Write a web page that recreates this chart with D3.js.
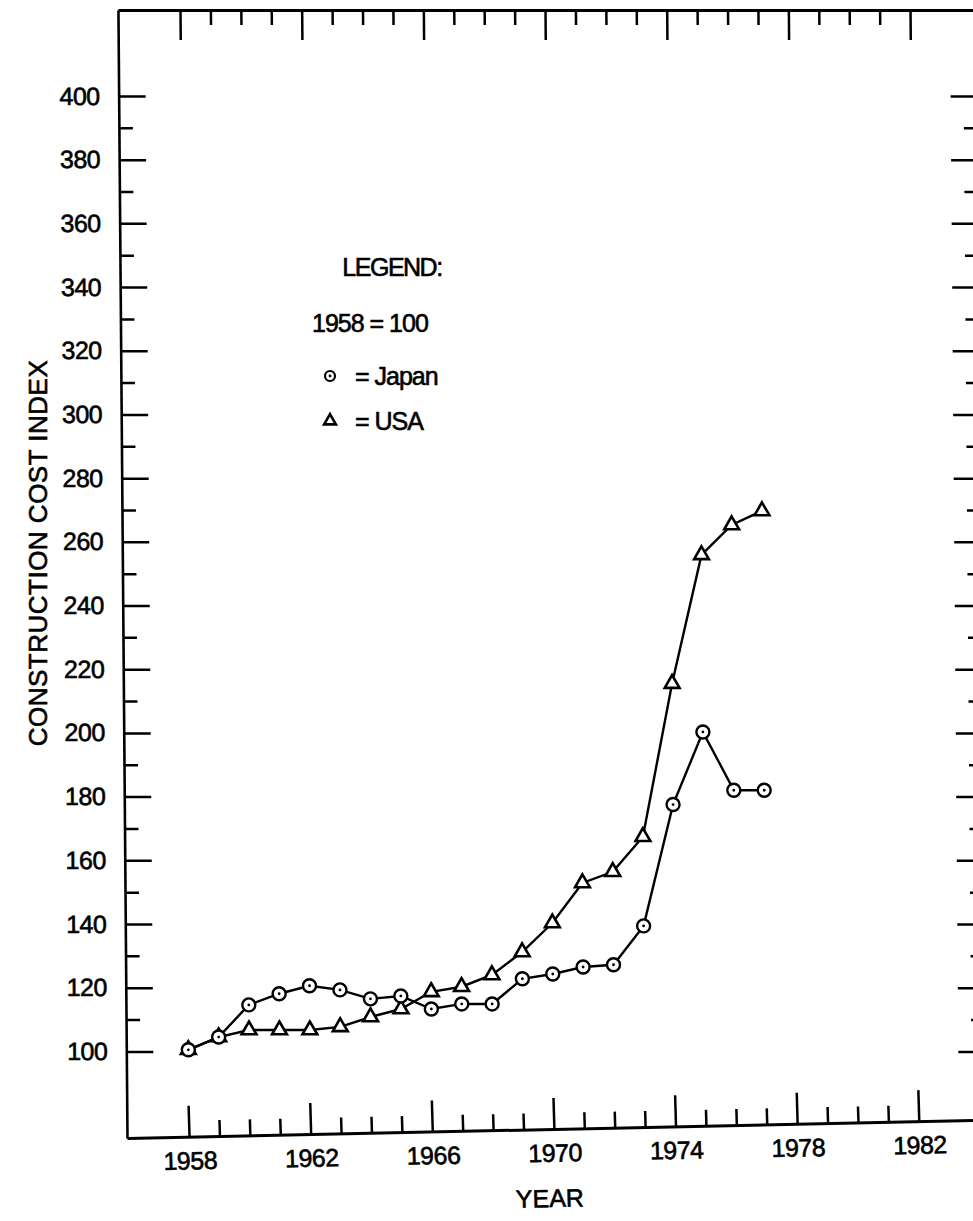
<!DOCTYPE html>
<html>
<head>
<meta charset="utf-8">
<script src="https://cdn.jsdelivr.net/npm/d3@7"></script>
<style>
  body { margin: 0; background: #fff; }
  svg { display: block; }
  text { font-family: "Liberation Sans", Arial, sans-serif; fill: #000; stroke: #000; stroke-width: 0.6px; }
</style>
</head>
<body>
<div id="chart"></div>
<script>
// values (1958 = 100)
const years = [1958,1959,1960,1961,1962,1963,1964,1965,1966,1967,1968,1969,1970,1971,1972,1973,1974,1975,1976,1977]
const japan = [100.5,104.5,114.6,118.1,120.6,119.3,116.5,117.4,113.3,114.9,114.9,122.8,124.3,126.5,127.2,139.4,177.5,200.3,182,182]
const usa   = [100.5,104.5,106.7,106.7,106.7,107.7,110.8,113.3,118.7,120.3,124.0,131.2,140.3,152.9,156.4,167.4,215.5,255.9,265.3,269.7]

const yTicks = [100,120,140,160,180,200,220,240,260,280,300,320,340,360,380,400]
const yMinorTicks = [110,130,150,170,190,210,230,250,270,290,310,330,350,370,390]
const xTicks = [1958,1962,1966,1970,1974,1978,1982]
const xMinorTicks = [1959,1960,1961,1963,1964,1965,1967,1968,1969,1971,1972,1973,1975,1976,1977,1979,1980,1981]

const W = 973, H = 1221
const yBottom = 1138, yTop = 10, xLeft = 127, xRight = 986

const svg = d3.select("#chart").append("svg")
  .attr("width", W)
  .attr("height", H)

const xScale = d3.scaleLinear()
  .domain([1955.96, 1984.2])
  .range([xLeft, xRight])

const yScale = d3.scaleLinear()
  .domain([72.8, 427])
  .range([yBottom, yTop])

// the original scan leans a little, so shear the whole plot
const plot = svg.append("g")
  .attr("transform", `translate(0,${yBottom}) skewX(0.46) translate(0,${-yBottom})`)

function styleAxis(g, w){
  g.selectAll("path").attr("stroke", "#000").attr("stroke-width", w)
  g.selectAll("line").attr("stroke", "#000").attr("stroke-width", 2.5)
  g.selectAll("text")
    .style("font-size", "25px")
    .style("letter-spacing", "-0.5px")
}

// left axis
plot.append("g")
  .attr("transform", `translate(${xLeft},0)`)
  .call(d3.axisLeft(yScale).tickValues(yTicks).tickSize(-27).tickSizeOuter(0).tickPadding(19))
  .call(g => styleAxis(g, 2.6))
plot.append("g")
  .attr("transform", `translate(${xLeft},0)`)
  .call(d3.axisLeft(yScale).tickValues(yMinorTicks).tickSize(-14).tickFormat(""))
  .call(g => g.select(".domain").remove())
  .call(g => styleAxis(g, 2))

// right axis (line sits just past the page edge)
plot.append("g")
  .attr("transform", `translate(${xRight},0)`)
  .call(d3.axisRight(yScale).tickValues(yTicks).tickSize(-27).tickSizeOuter(0).tickFormat(""))
  .call(g => styleAxis(g, 2.6))
plot.append("g")
  .attr("transform", `translate(${xRight},0)`)
  .call(d3.axisRight(yScale).tickValues(yMinorTicks).tickSize(-14).tickFormat(""))
  .call(g => g.select(".domain").remove())
  .call(g => styleAxis(g, 2))

// top axis
plot.append("g")
  .attr("transform", `translate(0,${yTop})`)
  .call(d3.axisTop(xScale).tickValues(xTicks).tickSize(-30).tickSizeOuter(0).tickFormat(""))
  .call(g => styleAxis(g, 3))
plot.append("g")
  .attr("transform", `translate(0,${yTop})`)
  .call(d3.axisTop(xScale).tickValues(xMinorTicks).tickSize(-15).tickFormat(""))
  .call(g => g.select(".domain").remove())
  .call(g => styleAxis(g, 2))

// bottom axis, tilted like the scan
const xAxisG = plot.append("g")
  .attr("transform", `translate(0,${yBottom}) rotate(-1.22,${xLeft},0)`)
xAxisG.append("g")
  .call(d3.axisBottom(xScale).tickValues(xTicks).tickSize(-31).tickSizeOuter(0).tickPadding(15).tickFormat(d3.format("d")))
  .call(g => styleAxis(g, 3))
xAxisG.append("g")
  .call(d3.axisBottom(xScale).tickValues(xMinorTicks).tickSize(-16).tickFormat(""))
  .call(g => g.select(".domain").remove())
  .call(g => styleAxis(g, 2))

xAxisG.append("text")
  .attr("x", 548)
  .attr("y", 78)
  .attr("text-anchor", "middle")
  .style("font-size", "25px")
  .text("YEAR")

// y title
svg.append("text")
  .attr("transform", "translate(47,553) rotate(-90)")
  .attr("text-anchor", "middle")
  .style("font-size", "26px")
  .style("letter-spacing", "0.5px")
  .text("CONSTRUCTION COST INDEX")

// series
const line = d3.line()
  .x((d,i) => xScale(years[i]))
  .y(d => yScale(d))

plot.append("path")
  .datum(japan)
  .attr("d", line)
  .attr("fill", "none")
  .attr("stroke", "#000")
  .attr("stroke-width", 2.4)

plot.append("path")
  .datum(usa)
  .attr("d", line)
  .attr("fill", "none")
  .attr("stroke", "#000")
  .attr("stroke-width", 2.4)

const tri = d3.symbol().type(d3.symbolTriangle).size(95)

plot.selectAll(".usa")
  .data(usa)
  .enter()
  .append("path")
  .attr("class", "usa")
  .attr("d", tri)
  .attr("transform", (d,i) => `translate(${xScale(years[i])},${yScale(d)})`)
  .attr("fill", "#fff")
  .attr("stroke", "#000")
  .attr("stroke-width", 2.6)

const jp = plot.selectAll(".jp")
  .data(japan)
  .enter()
  .append("g")
  .attr("class", "jp")
  .attr("transform", (d,i) => `translate(${xScale(years[i])},${yScale(d)})`)
jp.append("circle")
  .attr("r", 6.5)
  .attr("fill", "#fff")
  .attr("stroke", "#000")
  .attr("stroke-width", 2.4)
jp.append("circle")
  .attr("r", 1.4)
  .attr("fill", "#000")

// legend
const legend = svg.append("g")
legend.append("text")
  .attr("x", 392).attr("y", 267).attr("dy", "0.35em")
  .attr("text-anchor", "middle")
  .style("font-size", "25px").style("letter-spacing", "-1.5px")
  .text("LEGEND:")
legend.append("text")
  .attr("x", 312).attr("y", 323).attr("dy", "0.35em")
  .style("font-size", "25px").style("letter-spacing", "-1px")
  .text("1958 = 100")

const jl = legend.append("g").attr("transform", "translate(330,376)")
jl.append("circle").attr("r", 5).attr("fill", "#fff").attr("stroke", "#000").attr("stroke-width", 2.2)
jl.append("circle").attr("r", 1.4).attr("fill", "#000")
legend.append("text")
  .attr("x", 355).attr("y", 376).attr("dy", "0.35em")
  .style("font-size", "25px").style("letter-spacing", "-1px")
  .text("= Japan")

legend.append("path")
  .attr("d", d3.symbol().type(d3.symbolTriangle).size(60))
  .attr("transform", "translate(330,421)")
  .attr("fill", "#fff").attr("stroke", "#000").attr("stroke-width", 2.6)
legend.append("text")
  .attr("x", 355).attr("y", 421).attr("dy", "0.35em")
  .style("font-size", "25px").style("letter-spacing", "-1px")
  .text("= USA")
</script>
</body>
</html>
